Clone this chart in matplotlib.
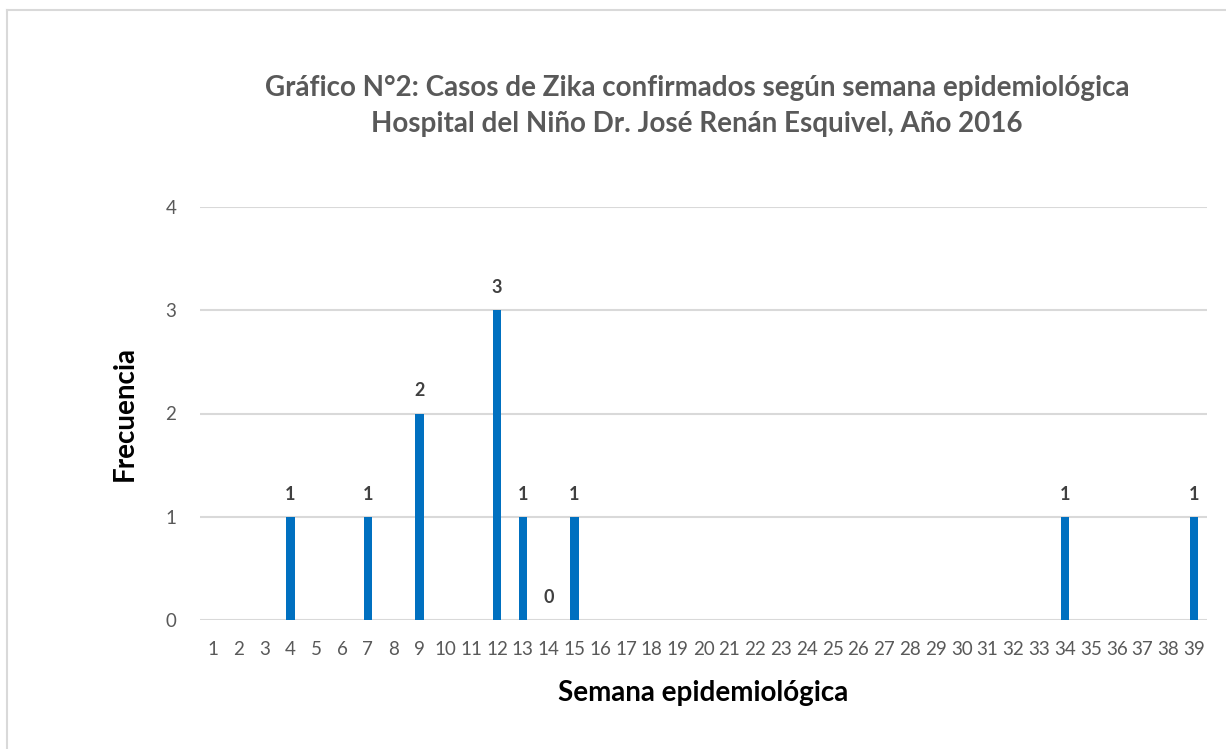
import matplotlib.pyplot as plt
from matplotlib.lines import Line2D

# weeks 1..39, None = no data reported
weeks = list(range(1, 40))
cases = [None] * 39
case_weeks = [4, 7, 9, 12, 13, 14, 15, 34, 39]
case_values = [1, 1, 2, 3, 1, 0, 1, 1, 1]
for w, v in zip(case_weeks, case_values):
    cases[w - 1] = v

yticks = [0, 1, 2, 3, 4]

plt.rcParams['font.family'] = ['Lato', 'DejaVu Sans']

fig = plt.figure(figsize=(12.26, 7.49), dpi=100)
ax = fig.add_axes([200 / 1226, 129 / 749, 1007 / 1226, 413 / 749])

xs = [w for w, v in zip(weeks, cases) if v is not None]
vs = [v for v in cases if v is not None]
ax.bar(xs, vs, width=0.32, color='#0070C0', zorder=3)
for x, v in zip(xs, vs):
    ax.text(x, v + 0.22, str(v), ha='center', va='center', fontsize=13,
            fontweight='bold', color='#404040')

ax.set_xlim(0.5, 39.5)
ax.set_ylim(0, 4)
ax.set_yticks(yticks)
ax.set_xticks(weeks)
ax.set_xticklabels([str(w) for w in weeks])
ax.yaxis.grid(True, color='#d9d9d9', linewidth=1.5, zorder=0)
for s in ax.spines.values():
    s.set_visible(False)
ax.tick_params(axis='both', length=0, labelsize=13.5, labelcolor='#595959')
ax.tick_params(axis='x', pad=15)
ax.tick_params(axis='y', pad=17)

ax.set_xlabel('Semana epidemiológica', fontsize=20, fontweight='bold',
              color='black', labelpad=16)
ax.set_ylabel('Frecuencia', fontsize=20, fontweight='bold', color='black',
              labelpad=20)

fig.text(697 / 1226, 1 - 106 / 749,
         'Gráfico N°2: Casos de Zika confirmados según semana epidemiológica\n'
         'Hospital del Niño Dr. José Renán Esquivel, Año 2016',
         ha='center', va='center', fontsize=20, fontweight='bold',
         color='#595959', linespacing=1.45)

# outer chart frame (only left and top edges are visible)
fig.add_artist(Line2D([7 / 1226, 7 / 1226], [0, 1 - 10 / 749],
                      color='#d9d9d9', linewidth=1.5))
fig.add_artist(Line2D([7 / 1226, 1], [1 - 10 / 749, 1 - 10 / 749],
                      color='#d9d9d9', linewidth=1.5))

fig.savefig('out.png', dpi=100)
